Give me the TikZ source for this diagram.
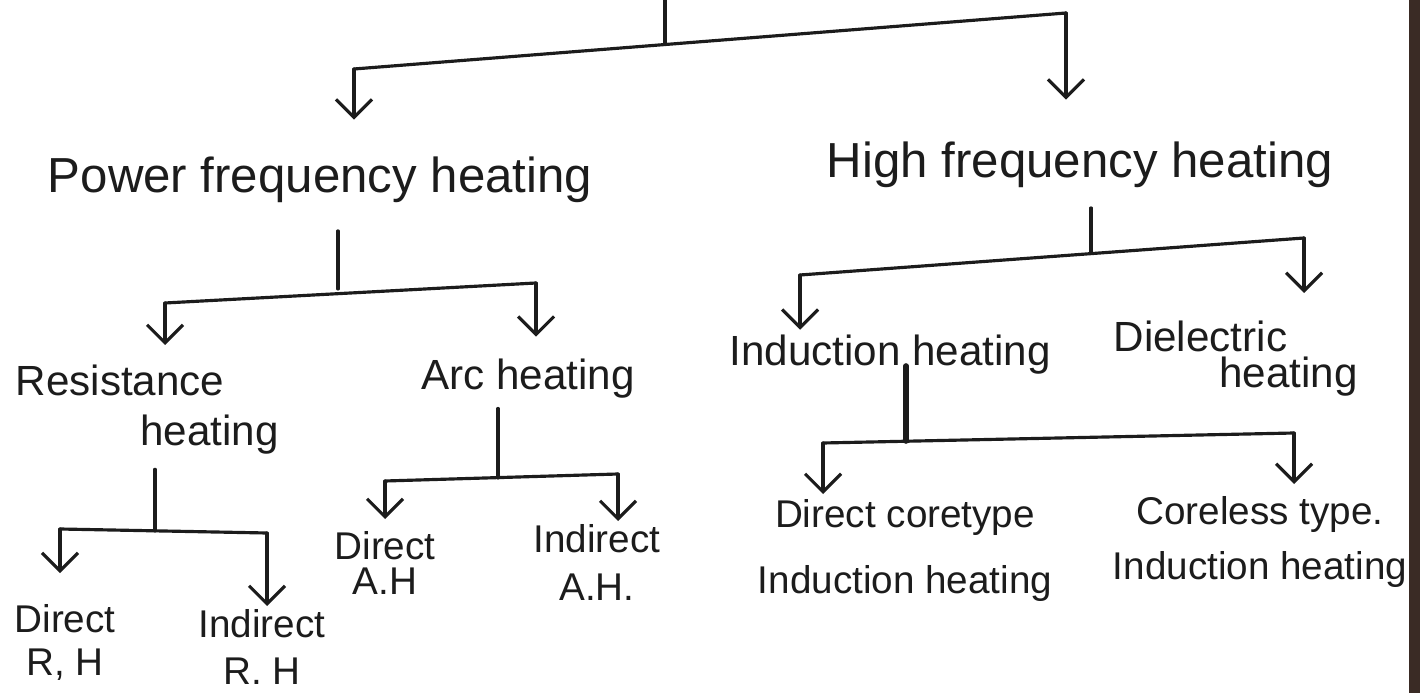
\documentclass[tikz,border=0pt]{standalone}
\usepackage{fontspec}
\setsansfont{Liberation Sans}
\usetikzlibrary{arrows.meta}

\definecolor{noteInk}{HTML}{1C1C1C}
\definecolor{notePaper}{HTML}{FFFFFF}
\definecolor{noteEdge}{HTML}{3A2B25}

\begin{document}
\begin{tikzpicture}[x=0.1mm,y=-0.1mm,font=\sffamily,text=noteInk,
  stem/.style={draw=noteInk,line width=0.9pt,line cap=round},
  pointer/.style={stem,-{Straight Barb[length=1.8mm,width=3.6mm]}},
  topic/.style={inner sep=0pt,anchor=base,font=\sffamily\fontsize{14}{17}\selectfont},
  method/.style={inner sep=0pt,anchor=north west,align=left,font=\sffamily\fontsize{12}{14.4}\selectfont},
  variant/.style={inner sep=0pt,anchor=north,align=center,font=\sffamily\fontsize{11}{13.2}\selectfont}]
  \useasboundingbox (0,0) rectangle (1420,693);
  \path[fill=notePaper] (0,0) rectangle (1420,693);
  \path[fill=noteEdge] (1409,0) rectangle (1420,693);

  % first split
  \node[topic] (pfh) at (320,193) {Power frequency heating};
  \node[topic] (hfh) at (1080,178) {High frequency heating};

  \coordinate (root) at (665,0);
  \coordinate (rootJ) at (665,44);
  \coordinate (topL) at (354,69);
  \coordinate (topR) at (1066,13);
  \draw[stem] (root) -- (rootJ);
  \draw[stem] (topL) -- (topR);
  \draw[pointer,shorten >=3.7mm] (topL) -- (topL |- pfh.north);
  \draw[pointer,shorten >=4.2mm] (topR) -- (topR |- hfh.north);

  % power frequency
  \node[method] (rh) at (15,364) {Resistance\\[0pt]\hspace*{2.95em}heating};
  \node[method,anchor=base] (ah) at (528,390) {Arc heating};

  \coordinate (pwL) at (165,303);
  \coordinate (pwR) at (536,283);
  \coordinate (pwJ) at (338,289);
  \draw[stem,shorten <=2.7mm] (pwJ |- pfh.south) -- (pwJ);
  \draw[stem] (pwL) -- (pwR);
  \draw[pointer,shorten >=1.9mm] (pwL) -- (pwL |- rh.north);
  \draw[pointer,shorten >=2.2mm] (pwR) -- (pwR |- ah.north);

  % high frequency
  \node[method,anchor=base] (ih) at (890,366) {Induction heating};
  \node[method] (dh) at (1113,320) {Dielectric\\[-4pt]\hspace*{2.5em}heating};

  \coordinate (hfL) at (800,275);
  \coordinate (hfR) at (1304,238);
  \coordinate (hfJ) at (1091,253);
  \draw[stem,shorten <=1.9mm] (hfJ |- hfh.south) -- (hfJ);
  \draw[stem] (hfL) -- (hfR);
  \draw[pointer,shorten >=0.5mm] (hfL) -- (hfL |- ih.north);
  \draw[pointer,shorten >=2.7mm] (hfR) -- (hfR |- dh.north);

  % leaves
  \node[variant] (drh) at (65,604) {Direct\\[-1pt]R, H};
  \node[variant] (irh) at (262,609) {Indirect\\R. H};
  \node[variant] (dah) at (385,531) {Direct\\[-3.3pt]A.H};
  \node[variant] (iah) at (597,524) {Indirect\\[0.4pt]A.H.};
  \node[variant] (dci) at (905,499) {Direct coretype\\[5.5pt]Induction heating};
  \node[variant] (cli) at (1260,496) {Coreless type.\\[2.4pt]Induction heating};

  \coordinate (rsL) at (60,529);
  \coordinate (rsR) at (267,533);
  \coordinate (rsJ) at (155,531);
  \draw[stem,shorten <=1.4mm] (rsJ |- rh.south) -- (rsJ);
  \draw[stem] (rsL) -- (rsR);
  \draw[pointer,shorten >=3.1mm] (rsL) -- (rsL |- drh.north);
  \draw[pointer,shorten >=0.3mm] (rsR) -- (rsR |- irh.north);

  \coordinate (arL) at (385,481);
  \coordinate (arR) at (618,474);
  \coordinate (arJ) at (498,478);
  \draw[stem,shorten <=0.9mm] (arJ |- ah.south) -- (arJ);
  \draw[stem] (arL) -- (arR);
  \draw[pointer,shorten >=1.2mm] (arL) -- (arL |- dah.north);
  \draw[pointer,shorten >=0.3mm] (arR) -- (arR |- iah.north);

  \coordinate (icL) at (823,443);
  \coordinate (icR) at (1294,433);
  \coordinate (icJ) at (906,441);
  \draw[stem,line width=1.6pt] (icJ |- ih.base) -- (icJ);
  \draw[stem] (icL) -- (icR);
  \draw[pointer,shorten >=0.5mm] (icL) -- (icL |- dci.north);
  \draw[pointer,shorten >=1.2mm] (icR) -- (icR |- cli.north);
\end{tikzpicture}
\end{document}
